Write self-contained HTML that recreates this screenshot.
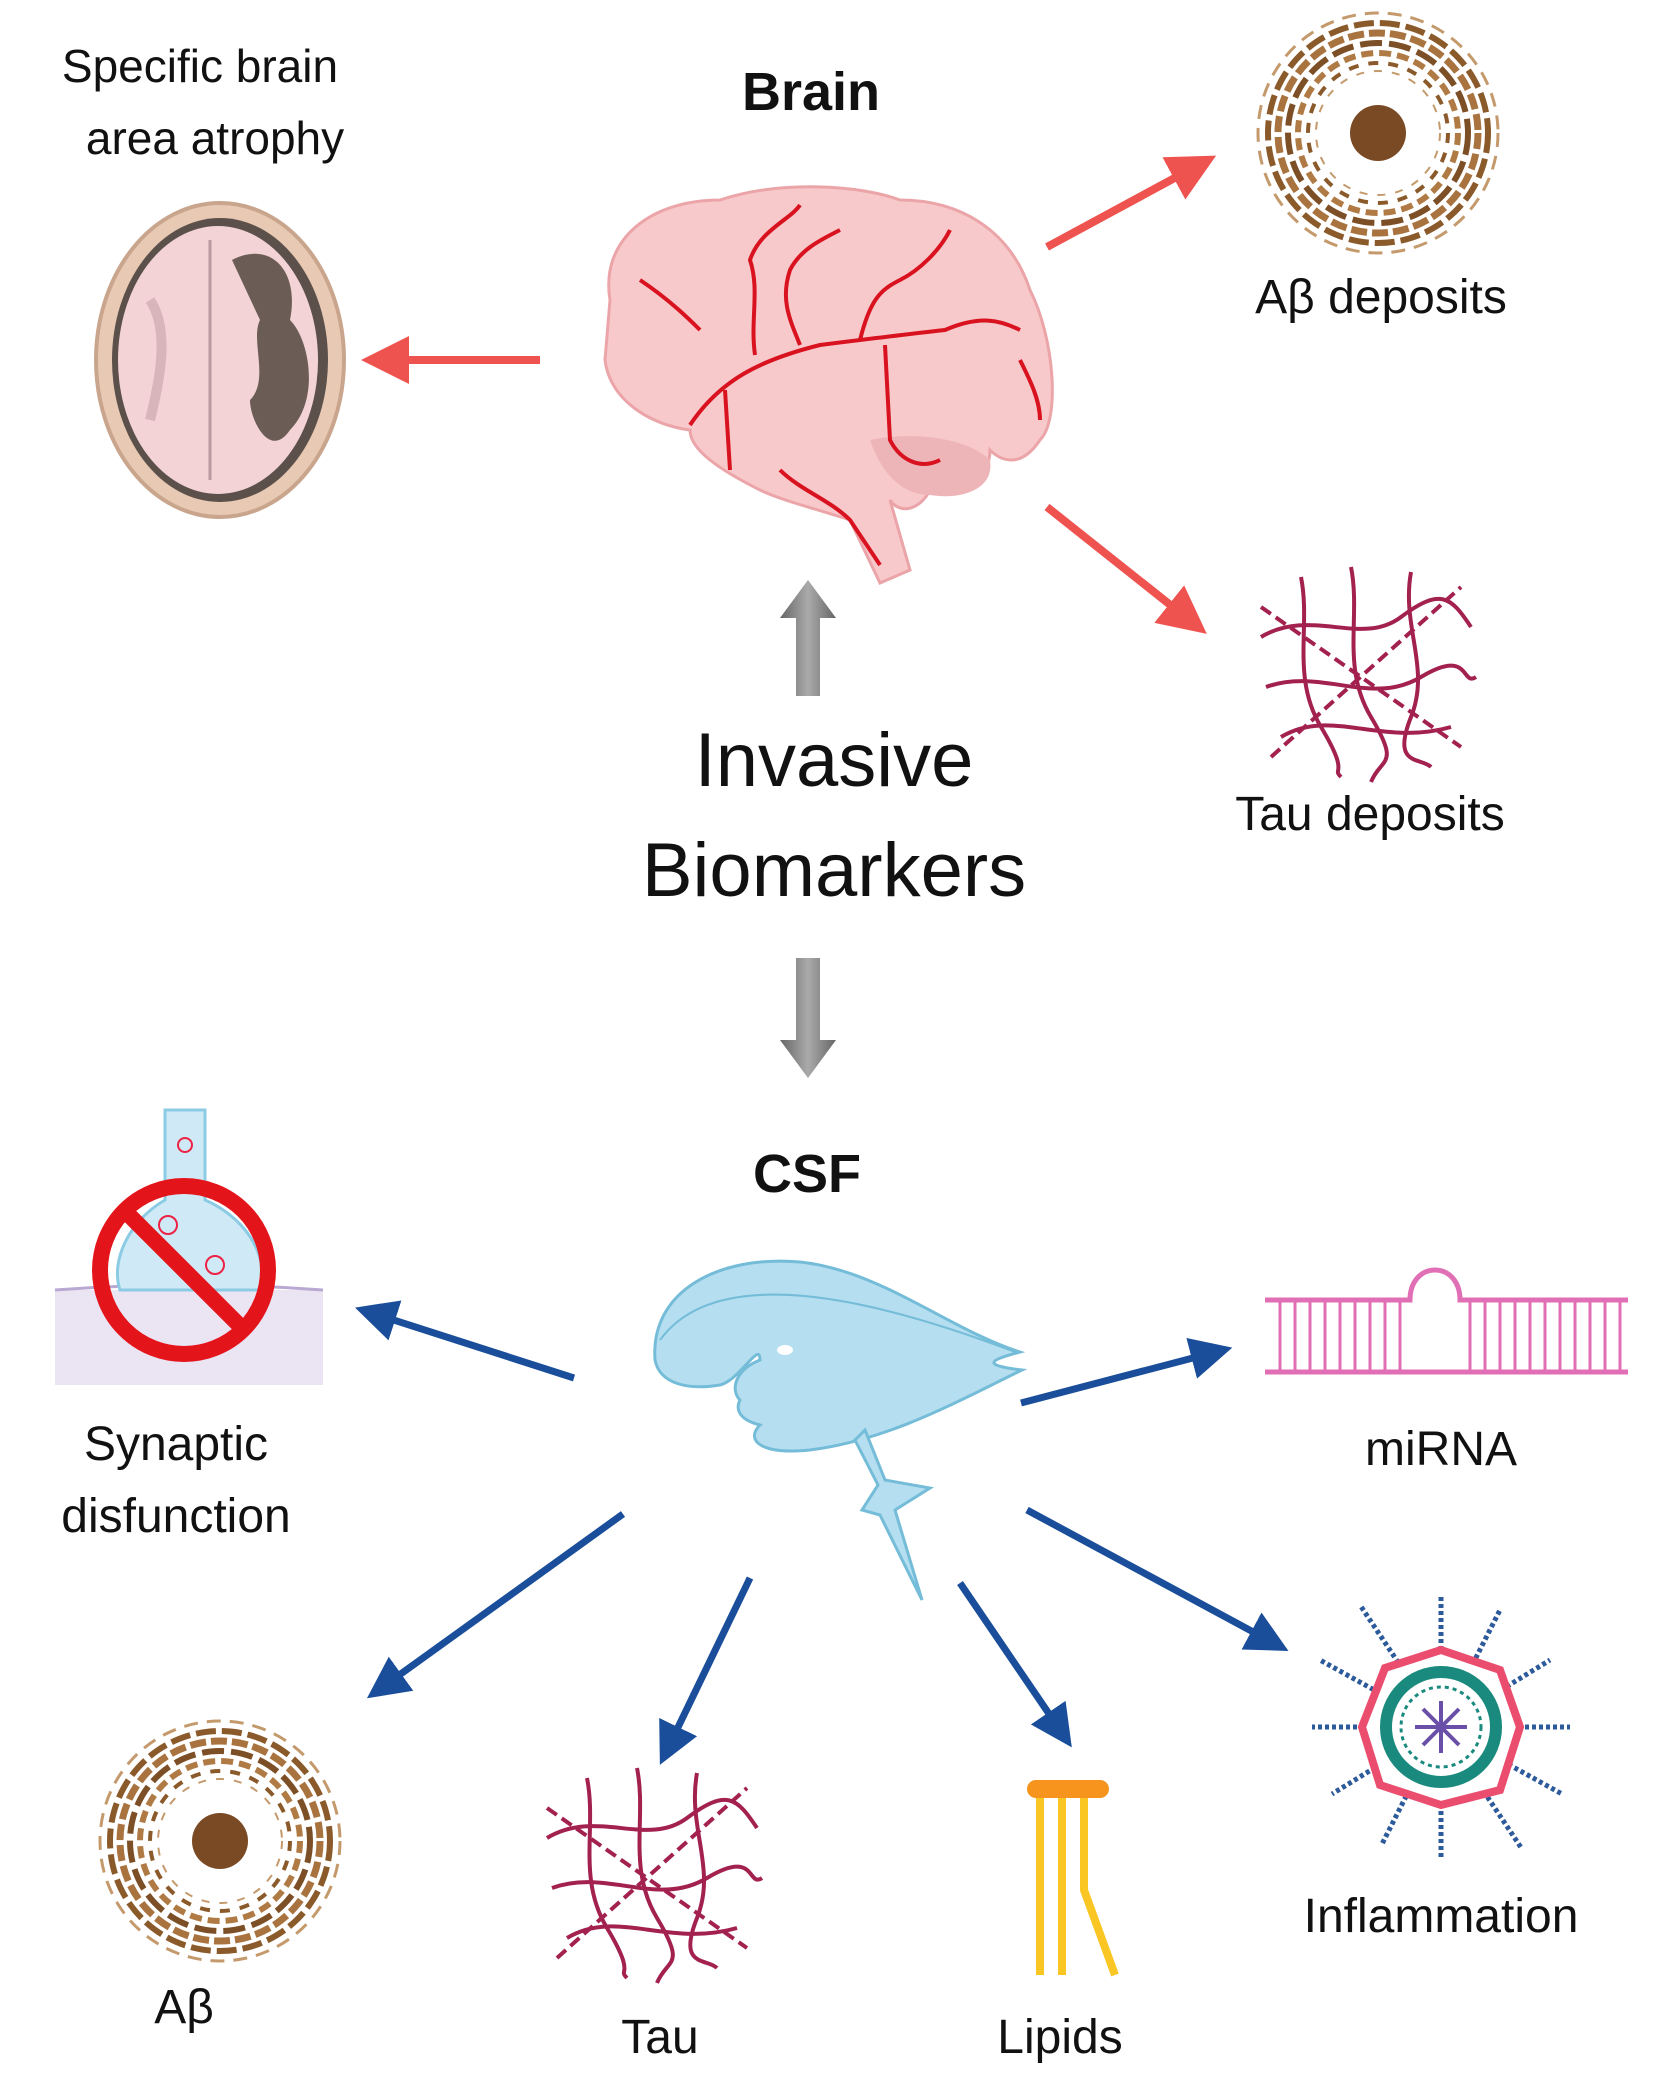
<!DOCTYPE html>
<html><head><meta charset="utf-8"><style>
html,body{margin:0;padding:0;background:#fff}
svg{display:block}
text{font-family:"Liberation Sans","DejaVu Sans",sans-serif;fill:#111}
</style></head><body>
<svg width="1654" height="2089" viewBox="0 0 1654 2089" xmlns="http://www.w3.org/2000/svg">
<defs>
<marker id="rh" markerWidth="6" markerHeight="6" refX="3" refY="3" orient="auto" markerUnits="strokeWidth"><path d="M0,0 L6,3 L0,6 z" fill="#ef5350"/></marker>
<marker id="bh" markerWidth="6" markerHeight="6" refX="3" refY="3" orient="auto" markerUnits="strokeWidth"><path d="M0,0 L6,3 L0,6 z" fill="#1a4e9a"/></marker>
<linearGradient id="gg" x1="0" x2="1"><stop offset="0" stop-color="#666"/><stop offset="0.5" stop-color="#aaa"/><stop offset="1" stop-color="#666"/></linearGradient>
<g id="ab" fill="none">
<circle r="120" stroke="#c49a6c" stroke-width="3" stroke-dasharray="14 9"/>
<circle r="110" stroke="#8b5a2b" stroke-width="6" stroke-dasharray="20 6"/>
<circle r="100" stroke="#a8733f" stroke-width="7" stroke-dasharray="16 5"/>
<circle r="90" stroke="#7d4f26" stroke-width="6" stroke-dasharray="22 7"/>
<circle r="80" stroke="#b07a45" stroke-width="6" stroke-dasharray="12 6"/>
<circle r="70" stroke="#8b5a2b" stroke-width="4" stroke-dasharray="10 10"/>
<circle r="62" stroke="#c49a6c" stroke-width="2" stroke-dasharray="8 10"/>
<circle r="28" fill="#7a4a25"/>
</g>
<g id="tau" fill="none" stroke="#a3214f" stroke-width="4">
<path d="M-100,-30 C-50,-60 0,-20 40,-50 S90,-70 110,-40"/>
<path d="M-95,20 C-40,0 10,40 60,10 S100,20 115,10"/>
<path d="M-80,70 C-30,40 20,80 90,60"/>
<path d="M-60,-90 C-50,-40 -70,10 -40,60 S-30,100 -20,110"/>
<path d="M-10,-100 C0,-50 -20,0 10,50 S20,90 10,115"/>
<path d="M50,-95 C40,-40 70,0 50,50 S60,90 70,100"/>
<path d="M-100,-60 L100,80" stroke-dasharray="12 6"/>
<path d="M-90,90 L100,-80" stroke-dasharray="12 6"/>
</g>
</defs>

<text x="200" y="82" font-size="46" text-anchor="middle">Specific brain</text>
<text x="215" y="154" font-size="46" text-anchor="middle">area atrophy</text>
<text x="811" y="110" font-size="54" font-weight="bold" text-anchor="middle">Brain</text>
<text x="1381" y="313" font-size="48" text-anchor="middle">Aβ deposits</text>
<text x="1370" y="830" font-size="48" text-anchor="middle">Tau deposits</text>
<text x="834" y="786" font-size="76" text-anchor="middle">Invasive</text>
<text x="834" y="896" font-size="76" text-anchor="middle">Biomarkers</text>
<text x="807" y="1192" font-size="54" font-weight="bold" text-anchor="middle">CSF</text>
<text x="176" y="1460" font-size="48" text-anchor="middle">Synaptic</text>
<text x="176" y="1532" font-size="48" text-anchor="middle">disfunction</text>
<text x="1441" y="1465" font-size="48" text-anchor="middle">miRNA</text>
<text x="184" y="2023" font-size="48" text-anchor="middle">Aβ</text>
<text x="660" y="2053" font-size="48" text-anchor="middle">Tau</text>
<text x="1060" y="2053" font-size="48" text-anchor="middle">Lipids</text>
<text x="1441" y="1932" font-size="48" text-anchor="middle">Inflammation</text>

<ellipse cx="220" cy="360" rx="124" ry="157" fill="#e8c9b4" stroke="#c9a58d" stroke-width="4"/>
<ellipse cx="220" cy="360" rx="108" ry="142" fill="#5c504a"/>
<ellipse cx="218" cy="360" rx="100" ry="134" fill="#f3d3d6"/>
<path d="M232,260 C270,240 300,270 290,320 C310,340 320,400 290,430 C270,460 250,420 250,400 C270,380 250,340 260,320 Z" fill="#6b5d55"/>
<path d="M210,240 L210,480" stroke="#b89aa0" stroke-width="3"/>
<path d="M150,300 C170,330 160,380 150,420" stroke="#d8b5ba" stroke-width="10" fill="none"/>

<g>
<path d="M610,300 C600,240 650,200 720,200 C780,180 860,185 900,200 C960,200 1010,230 1030,290 C1055,340 1060,420 1040,440 C1020,470 1000,460 990,450 C990,480 960,500 930,490 C920,510 900,515 890,500 L910,570 L880,583 L850,520 C820,510 780,500 760,490 C720,470 690,450 690,430 C650,425 610,400 605,360 Z" fill="#f8c9cb" stroke="#eba5a9" stroke-width="3"/>
<path d="M870,440 C920,430 970,440 990,460 C995,490 960,500 930,495 C900,495 880,470 870,440 Z" fill="#eeb5b8"/>
<g fill="none" stroke="#d9121f" stroke-width="4">
<path d="M690,425 C720,380 760,360 820,345 C860,340 900,335 945,330 C980,315 1000,320 1020,330"/>
<path d="M755,355 C750,320 760,290 750,260 C760,230 790,220 800,205"/>
<path d="M725,390 L730,470"/>
<path d="M800,345 C790,320 780,300 790,270 C800,250 820,240 840,230"/>
<path d="M860,340 C870,300 880,290 900,280 C920,270 940,250 950,230"/>
<path d="M885,345 L890,440 C900,460 920,470 940,460"/>
<path d="M780,470 C800,490 830,500 850,520 L880,565"/>
<path d="M1020,360 C1030,380 1040,400 1040,420"/>
<path d="M640,280 C670,300 690,320 700,330"/>
</g>
</g>

<line x1="540" y1="360" x2="385" y2="360" stroke="#ef5350" stroke-width="8" marker-end="url(#rh)"/>
<line x1="1047" y1="247" x2="1195" y2="167" stroke="#ef5350" stroke-width="8" marker-end="url(#rh)"/>
<line x1="1047" y1="507" x2="1188" y2="619" stroke="#ef5350" stroke-width="8" marker-end="url(#rh)"/>

<use href="#ab" x="1378" y="133"/>
<use href="#tau" x="1361" y="667"/>

<path d="M796,696 L796,618 L780,618 L808,580 L836,618 L820,618 L820,696 Z" fill="url(#gg)"/>
<path d="M796,958 L796,1040 L780,1040 L808,1078 L836,1040 L820,1040 L820,958 Z" fill="url(#gg)"/>

<g fill="#b5dff0" stroke="#74bcd8" stroke-width="3">
<path d="M655,1360 C650,1290 720,1255 800,1262 C880,1270 950,1330 1020,1352 C990,1360 980,1365 1022,1370 C960,1400 890,1440 810,1450 C760,1455 745,1440 760,1425 C740,1420 735,1410 740,1400 C730,1390 735,1370 760,1360 C760,1340 740,1380 720,1385 C690,1390 660,1385 655,1360 Z"/>
<path d="M865,1430 L885,1480 L930,1488 L895,1510 L922,1600 L880,1515 L862,1510 L878,1485 L855,1440 Z"/>
</g>
<path d="M660,1340 C700,1285 800,1270 1015,1352" fill="none" stroke="#74bcd8" stroke-width="2"/>
<ellipse cx="785" cy="1350" rx="8" ry="5" fill="#fff"/>

<g stroke="#1a4e9a" stroke-width="7">
<line x1="574" y1="1378" x2="375" y2="1314" marker-end="url(#bh)"/>
<line x1="1021" y1="1403" x2="1212" y2="1353" marker-end="url(#bh)"/>
<line x1="623" y1="1514" x2="384" y2="1686" marker-end="url(#bh)"/>
<line x1="750" y1="1578" x2="669" y2="1746" marker-end="url(#bh)"/>
<line x1="960" y1="1583" x2="1060" y2="1730" marker-end="url(#bh)"/>
<line x1="1027" y1="1510" x2="1270" y2="1641" marker-end="url(#bh)"/>
</g>

<rect x="55" y="1290" width="268" height="95" fill="#ebe4f3"/>
<path d="M55,1290 Q190,1280 323,1290" fill="none" stroke="#b9a9d2" stroke-width="3"/>
<path d="M165,1110 L165,1200 C130,1220 110,1260 120,1290 L260,1290 C270,1250 240,1215 205,1200 L205,1110 Z" fill="#cfeaf6" stroke="#8ccbe4" stroke-width="3"/>
<circle cx="185" cy="1145" r="7" fill="none" stroke="#e24" stroke-width="2"/>
<circle cx="168" cy="1225" r="9" fill="none" stroke="#e24" stroke-width="2"/>
<circle cx="215" cy="1265" r="9" fill="none" stroke="#e24" stroke-width="2"/>
<circle cx="184" cy="1270" r="84" fill="none" stroke="#e4141b" stroke-width="16"/>
<line x1="125" y1="1211" x2="243" y2="1329" stroke="#e4141b" stroke-width="16"/>

<g stroke="#e06fb5" stroke-width="5" fill="none">
<path d="M1265,1300 L1410,1300 C1410,1260 1460,1260 1460,1300 L1628,1300"/>
<line x1="1265" y1="1372" x2="1628" y2="1372"/>
<path d="M1280,1300 V1372 M1295,1300 V1372 M1310,1300 V1372 M1325,1300 V1372 M1340,1300 V1372 M1355,1300 V1372 M1370,1300 V1372 M1385,1300 V1372 M1400,1300 V1372 M1470,1300 V1372 M1485,1300 V1372 M1500,1300 V1372 M1515,1300 V1372 M1530,1300 V1372 M1545,1300 V1372 M1560,1300 V1372 M1575,1300 V1372 M1590,1300 V1372 M1605,1300 V1372 M1620,1300 V1372" stroke-width="3"/>
</g>

<use href="#ab" x="220" y="1841"/>
<use href="#tau" x="647" y="1868"/>

<rect x="1027" y="1780" width="82" height="18" rx="9" fill="#f7941d"/>
<g stroke="#f9c623" stroke-width="8" fill="none">
<line x1="1040" y1="1798" x2="1040" y2="1975"/>
<line x1="1062" y1="1798" x2="1062" y2="1975"/>
<path d="M1084,1798 L1084,1890 L1115,1975"/>
</g>

<g stroke="#2c5a9a" stroke-width="5" stroke-dasharray="4 3">
<line x1="1441" y1="1727" x2="1570" y2="1727"/><line x1="1441" y1="1727" x2="1312" y2="1727"/>
<line x1="1441" y1="1727" x2="1550" y2="1660"/><line x1="1441" y1="1727" x2="1332" y2="1794"/>
<line x1="1441" y1="1727" x2="1500" y2="1610"/><line x1="1441" y1="1727" x2="1382" y2="1844"/>
<line x1="1441" y1="1727" x2="1360" y2="1605"/><line x1="1441" y1="1727" x2="1522" y2="1849"/>
<line x1="1441" y1="1727" x2="1320" y2="1660"/><line x1="1441" y1="1727" x2="1562" y2="1794"/>
<line x1="1441" y1="1727" x2="1441" y2="1597"/><line x1="1441" y1="1727" x2="1441" y2="1860"/>
</g>
<polygon points="1441,1650 1500,1670 1520,1727 1500,1790 1441,1805 1380,1785 1362,1727 1385,1668" fill="#fff" stroke="#ea4d6d" stroke-width="8"/>
<circle cx="1441" cy="1727" r="55" fill="#fff" stroke="#1b8a7e" stroke-width="12"/>
<circle cx="1441" cy="1727" r="40" fill="#fff" stroke="#1b8a7e" stroke-width="3" stroke-dasharray="4 4"/>
<g stroke="#6a4fa8" stroke-width="4">
<line x1="1415" y1="1727" x2="1467" y2="1727"/><line x1="1441" y1="1701" x2="1441" y2="1753"/>
<line x1="1423" y1="1709" x2="1459" y2="1745"/><line x1="1459" y1="1709" x2="1423" y2="1745"/>
</g>
</svg>
</body></html>
